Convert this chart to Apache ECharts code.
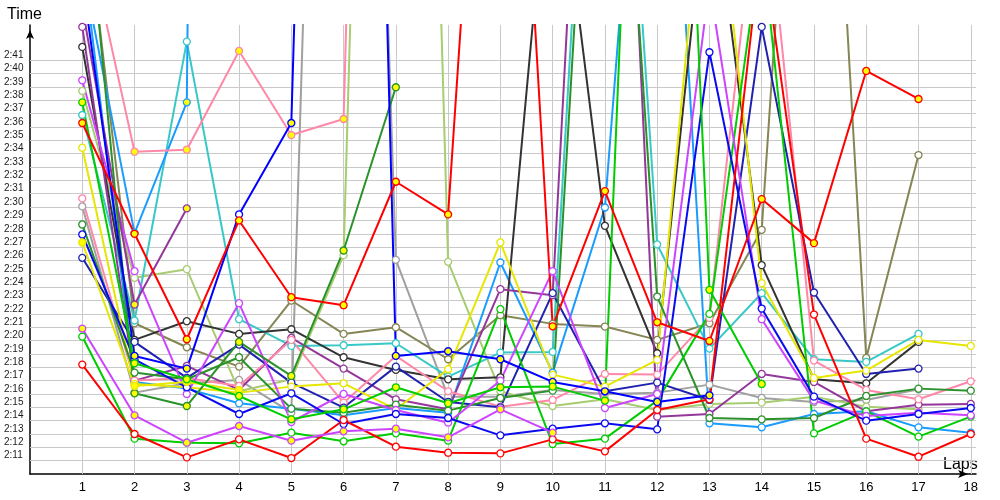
<!DOCTYPE html>
<html><head><meta charset="utf-8">
<script src="https://cdn.jsdelivr.net/npm/echarts@6/dist/echarts.min.js"></script>
<style>html,body{margin:0;padding:0;background:#fff}#c{width:1000px;height:500px}</style>
</head><body><div id="c"></div>
<script>
// ---- data (lap times in seconds; 2:11 = 131) ----
const laps = [1,2,3,4,5,6,7,8,9,10,11,12,13,14,15,16,17,18];
const yTickSeconds = [131,132,133,134,135,136,137,138,139,140,141,142,143,144,145,146,147,148,149,150,151,152,153,154,155,156,157,158,159,160,161];

const redA      = [138.2,133.0,131.25,132.6,131.2,134.05,132.05,131.6,131.55,132.6,131.7,134.8,135.6,170,141.95,132.65,131.3,133.0];
const redB      = [156.3,148.0,140.1,149.0,143.25,142.65,151.9,149.45,208,141.07,151.2,141.37,139.97,150.6,147.3,160.2,158.1,null];
const greenA    = [140.3,132.65,132.35,132.3,133.1,132.45,133.05,132.5,142.35,132.25,132.65,135.5,142.0,170,133.05,134.7,132.8,134.3];
const greenB    = [157.85,138.3,137.1,135.85,134.1,134.85,136.5,135.3,136.5,136.55,135.5,230,143.8,136.75,null,null,null,null];
const dkgreenA  = [148.7,137.6,137.1,138.75,134.9,134.6,135.2,134.75,135.7,136.25,202,143.3,134.2,134.1,134.2,135.85,136.4,136.25];
const dkgreenB  = [176.8,136.05,135.1,139.9,137.35,146.75,158.98,null,null,null,null,null,null,null,null,null,null,null];
const blueA     = [167,138.85,137.9,149.45,156.3,290,138.85,139.2,138.6,136.9,136.2,135.4,135.9,null,null,null,null,null];
const blueC     = [147.95,138.6,136.5,134.5,136.05,133.75,134.5,134.2,132.9,133.4,133.8,133.35,161.6,142.4,135.8,134.0,134.5,134.95];
const navy      = [146.2,139.9,137.2,139.7,136.85,134.98,138.05,135.4,135.0,143.55,136.2,136.85,135.55,163.5,143.6,137.5,137.9,null];
const purpleA   = [163.5,137.0,138.1,136.3,140.2,137.9,135.6,134.85,143.85,143.4,217,134.3,134.5,137.5,136.9,134.7,135.2,135.25];
const purpleB   = [165,142.7,149.9,null,null,null,null,null,null,null,null,null,null,null,null,null,null,null];
const violetA   = [159.5,145.2,136.0,142.8,133.9,136.0,134.8,133.85,137.0,145.2,134.95,136.0,166.7,141.6,135.5,134.35,134.6,134.4];
const violetB   = [140.9,134.4,132.35,133.6,132.5,133.2,133.4,132.75,134.85,133.1,null,null,null,null,null,null,null,null];
const pinkA     = [150.65,137.0,137.2,136.6,140.05,135.35,138.85,136.2,135.05,135.55,137.5,137.45,141.7,177,138.5,136.3,135.6,136.95];
const pinkB     = [172,154.15,154.3,161.7,155.4,156.6,300,null,null,null,null,null,null,null,null,null,null,null];
const lightgreen= [158.7,144.7,145.35,136.2,137.1,146.4,283,145.9,136.2,135.1,135.6,134.8,135.25,135.35,135.8,135.05,134.85,null];
const olive     = [174.6,141.3,139.5,138.05,143.0,140.5,141.0,138.6,141.9,141.25,141.05,140.05,141.3,148.3,207,138.7,153.9,null];
const dkgray    = [162.0,140.05,141.45,140.5,140.85,138.75,137.8,137.1,137.25,180,148.6,139.05,176,145.65,137.1,136.8,139.9,null];
const gray      = [150.05,136.1,136.8,137.05,134.6,265,146.05,135.8,135.8,136.3,136.0,136.1,136.7,135.7,135.4,135.55,136.35,null];
const cyan      = [156.9,141.5,162.4,141.6,139.6,139.65,139.8,137.3,139.1,139.15,206,147.2,139.4,143.55,138.6,138.4,140.5,null];
const skyblueA  = [168,148.05,157.85,540,null,null,null,null,null,null,null,null,null,null,null,null,null,null];
const skyblueB  = [169,136.9,136.4,135.3,134.9,134.4,134.95,134.6,145.85,137.6,149.97,200,133.8,133.5,134.5,134.7,133.5,133.1];
const yellowA   = [154.45,136.75,136.5,136.1,136.55,136.8,134.85,137.85,147.35,137.45,136.55,138.55,180,144.3,137.2,137.75,140.05,139.6];
const yellowB   = [147.35,136.6,136.9,136.3,null,null,null,null,null,null,null,null,null,null,null,null,null,null];

// laps whose marker is drawn with a yellow fill
const flaggedLaps = {
  redB: laps, greenB: laps, dkgreenB: laps, purpleB: laps, violetB: laps,
  pinkB: laps, skyblueA: laps, yellowB: laps, blueA: [2,3,5,7,8,9,10,11,12,13]
};

// ---- styles ----
const palette = {
  gray:'#a0a0a0', olive:'#858555', lightgreen:'#a8cc70', cyan:'#38c8c8', skyblueB:'#1a9cff',
  dkgray:'#333333', purpleA:'#94379b', pinkA:'#ff88a8', navy:'#2121b0', yellowA:'#e6e600',
  dkgreenA:'#2a922a', greenA:'#00cc00', violetA:'#cc44ff', blueC:'#0a0af0', redA:'#ff0000',
  skyblueA:'#1a9cff', pinkB:'#ff88a8', purpleB:'#94379b', dkgreenB:'#2a922a', yellowB:'#e6e600',
  blueA:'#0000ff', greenB:'#00cc00', violetB:'#cc44ff', redB:'#ff0000'
};
const seriesData = {gray, olive, lightgreen, cyan, skyblueB, dkgray, purpleA, pinkA, navy, yellowA,
  dkgreenA, greenA, violetA, blueC, redA, skyblueA, pinkB, purpleB, dkgreenB, yellowB, blueA, greenB, violetB, redB};

function fmt(v){ const m = Math.floor(v/60), s = Math.round(v - m*60); return m + ':' + (s<10?'0':'') + s; }

const series = [{
  type:'line', data:[], silent:true, z:0,
  markLine:{
    silent:true, symbol:['none','none'], animation:false, z:1,
    label:{show:false},
    lineStyle:{color:'#c9c9c9', type:'solid', width:1},
    data: yTickSeconds.map(v => ({yAxis:v})).concat(laps.map(l => ({xAxis:l})))
  }
}];
Object.keys(seriesData).forEach(name => {
  const col = palette[name];
  const fl = flaggedLaps[name] || [];
  series.push({
    name, type:'line', z:3,
    symbol:'circle', symbolSize:7, showAllSymbol:true,
    lineStyle:{color:col, width:2},
    itemStyle:{color:'#ffffff', borderColor:col, borderWidth:1.3},
    data: seriesData[name].map((v,i) => v == null ? [laps[i], null] :
      (fl.indexOf(laps[i]) >= 0 ? {value:[laps[i], v], itemStyle:{color:'#ffff00'}} : [laps[i], v]))
  });
});

const chart = echarts.init(document.getElementById('c'), null, {renderer:'canvas'});
chart.setOption({
  animation:false,
  backgroundColor:'#ffffff',
  grid:{left:30, right:24, top:24.9, bottom:25.95, containLabel:false},
  xAxis:{
    type:'value', min:0, max:18.1, interval:1,
    axisLine:{show:true, onZero:false, lineStyle:{color:'#000', width:1.5}, symbol:['none','arrow'], symbolSize:[6,10], symbolOffset:[0,-8]},
    axisTick:{show:false}, splitLine:{show:false},
    axisLabel:{margin:7, color:'#000', fontFamily:'Liberation Sans', fontSize:13,
      formatter: v => (v >= 1 && v <= 18 && Math.abs(v - Math.round(v)) < 1e-6) ? String(Math.round(v)) : ''}
  },
  yAxis:{
    type:'value', min:130, max:163.65, interval:1,
    axisLine:{show:true, onZero:false, lineStyle:{color:'#000', width:1.5}, symbol:['none','arrow'], symbolSize:[6,9], symbolOffset:[0,-5]},
    axisTick:{show:false}, splitLine:{show:false},
    axisLabel:{margin:26, align:'left', verticalAlign:'bottom', lineHeight:10, color:'#1a1a1a', fontFamily:'Liberation Sans', fontSize:10,
      formatter: v => (v >= 131 && v <= 161 && Math.abs(v - Math.round(v)) < 1e-6) ? fmt(v) : ''}
  },
  graphic:[
    {type:'text', left:7, top:7, style:{text:'Time', fill:'#000', font:'16px "Liberation Sans"'}},
    {type:'text', left:943, top:457, style:{text:'Laps', fill:'#000', font:'16px "Liberation Sans"'}}
  ],
  series
});
</script></body></html>
